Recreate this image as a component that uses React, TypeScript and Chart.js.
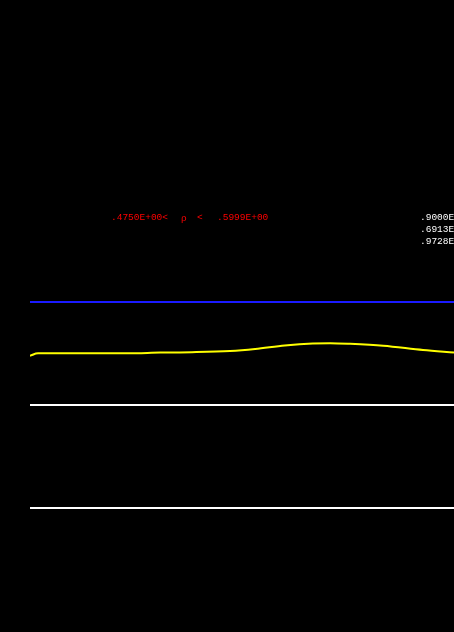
import React, { useEffect, useRef } from "react";
import { Chart, registerables } from "chart.js";

Chart.register(...registerables);

// x positions (percent of run) and values of the yellow curve
const curveX = [0, 1.9, 23.1, 30.7, 38.2, 47.2, 53.1, 60.1, 66.7, 70.8, 75.5, 83.3, 92.7, 100];
const curveY = [4.372, 4.41, 4.41, 4.421, 4.427, 4.446, 4.478, 4.533, 4.565, 4.57, 4.56, 4.53, 4.462, 4.422];

// constant levels
const blueLevel = 5.222;
const whiteLevels = [3.592, 1.962];

// annotation texts
const rangeLow = ".4750E+00<";
const rangeSymbol = "ρ";
const rangeLt = "<";
const rangeHigh = ".5999E+00";
const rightLabels = [".9000E+00", ".6913E+00", ".9728E+00"];

const flat = (v: number) => [
  { x: 0, y: v },
  { x: 100, y: v },
];

const textPlugin = {
  id: "texts",
  afterDraw(chart: any) {
    const ctx = chart.ctx as CanvasRenderingContext2D;
    ctx.save();
    ctx.font = "9.5px 'Liberation Mono', 'DejaVu Sans Mono', monospace";
    ctx.textBaseline = "alphabetic";
    ctx.textAlign = "left";
    ctx.fillStyle = "#ff0000";
    ctx.fillText(rangeLow, 111, 220);
    ctx.fillText(rangeSymbol, 181, 221);
    ctx.fillText(rangeLt, 197, 220);
    ctx.fillText(rangeHigh, 217, 220);
    ctx.fillStyle = "#ffffff";
    rightLabels.forEach((t, i) => ctx.fillText(t, 420, 220 + i * 12));
    ctx.restore();
  },
};

export default function App() {
  const ref = useRef<HTMLCanvasElement>(null);
  useEffect(() => {
    if (!ref.current) return;
    const chart = new Chart(ref.current, {
      type: "line",
      data: {
        datasets: [
          {
            data: flat(blueLevel),
            borderColor: "#1a1aff",
            borderWidth: 2,
            pointRadius: 0,
          },
          {
            data: curveX.map((x, i) => ({ x, y: curveY[i] })),
            borderColor: "#ffff00",
            borderWidth: 2,
            pointRadius: 0,
            cubicInterpolationMode: "monotone",
          },
          ...whiteLevels.map((v) => ({
            data: flat(v),
            borderColor: "#ffffff",
            borderWidth: 2,
            pointRadius: 0,
          })),
        ],
      },
      options: {
        responsive: false,
        animation: false,
        layout: { padding: { left: 30, right: 0, top: 0, bottom: 0 } },
        plugins: { legend: { display: false }, tooltip: { enabled: false } },
        scales: {
          x: { type: "linear", min: 0, max: 100, display: false },
          y: { type: "linear", min: 0, max: 10, display: false },
        },
      },
      plugins: [textPlugin],
    });
    return () => chart.destroy();
  }, []);
  return (
    <div style={{ position: "fixed", inset: 0, background: "#000" }}>
      <canvas ref={ref} width={454} height={632} style={{ display: "block" }} />
    </div>
  );
}
